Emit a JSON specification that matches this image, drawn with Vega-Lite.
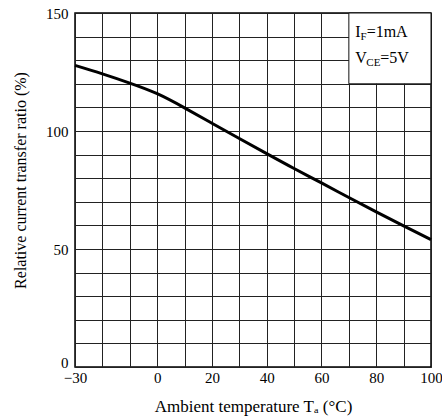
{
  "$schema": "https://vega.github.io/schema/vega-lite/v6.json",
  "width": 356,
  "height": 354,
  "autosize": "none",
  "padding": {"left": 75, "top": 13, "right": 11, "bottom": 52},
  "background": "white",
  "config": {
    "view": {"stroke": "#000", "strokeWidth": 1.5},
    "font": "Liberation Serif",
    "axis": {
      "grid": true,
      "gridColor": "#222",
      "gridWidth": 1,
      "gridOpacity": 1,
      "ticks": false,
      "domain": false,
      "labelFont": "Liberation Serif",
      "labelFontSize": 15,
      "labelColor": "#000",
      "titleFont": "Liberation Serif",
      "titleFontSize": 16,
      "titleFontWeight": "normal",
      "titleColor": "#000"
    },
    "text": {"font": "Liberation Serif", "fontWeight": "normal", "color": "#000"}
  },
  "data": {
    "values": [
      {"t": -30, "ctr": 127.8},
      {"t": -20, "ctr": 124.2},
      {"t": -10, "ctr": 120.3},
      {"t": 0, "ctr": 115.8},
      {"t": 10, "ctr": 109.8},
      {"t": 20, "ctr": 103.3},
      {"t": 30, "ctr": 96.8},
      {"t": 40, "ctr": 90.4},
      {"t": 50, "ctr": 84.1},
      {"t": 60, "ctr": 78},
      {"t": 70, "ctr": 71.8},
      {"t": 80, "ctr": 65.7},
      {"t": 90, "ctr": 59.8},
      {"t": 100, "ctr": 54}
    ]
  },
  "encoding": {
    "x": {
      "field": "t",
      "type": "quantitative",
      "scale": {"domain": [-30, 100], "nice": false, "zero": false},
      "axis": {
        "title": "Ambient temperature Tₐ (°C)",
        "titleFontSize": 17,
        "values": [-30, -20, -10, 0, 10, 20, 30, 40, 50, 60, 70, 80, 90, 100],
        "labelExpr": "(datum.value == -30 || (datum.value >= 0 && datum.value % 20 == 0)) ? datum.label : ''",
        "labelPadding": 3,
        "labelFlush": false,
        "labelOverlap": false,
        "titlePadding": 13
      }
    },
    "y": {
      "field": "ctr",
      "type": "quantitative",
      "scale": {"domain": [0, 150], "nice": false},
      "axis": {
        "title": "Relative current transfer ratio (%)",
        "values": [0, 10, 20, 30, 40, 50, 60, 70, 80, 90, 100, 110, 120, 130, 140, 150],
        "labelExpr": "datum.value % 50 == 0 ? datum.label : ''",
        "labelBaseline": {"condition": {"test": "datum.value == 0", "value": "alphabetic"}, "value": "middle"},
        "labelPadding": 7,
        "labelOverlap": false,
        "labelFlush": false,
        "titlePadding": 17,
        "titleY": 167
      }
    }
  },
  "layer": [
    {
      "mark": {"type": "line", "color": "#000", "strokeWidth": 3, "interpolate": "natural"}
    },
    {
      "data": {"values": [{"t": 70, "ctr": 120, "t2": 100, "ctr2": 150}]},
      "mark": {"type": "rect", "fill": "#fff", "stroke": "#111", "strokeWidth": 1},
      "encoding": {
        "x2": {"field": "t2"},
        "y2": {"field": "ctr2"}
      }
    },
    {
      "data": {"values": [{"t": 72.3, "ctr": 139.7}]},
      "mark": {"type": "text", "text": "I", "align": "left", "baseline": "alphabetic", "fontSize": 16}
    },
    {
      "data": {"values": [{"t": 72.3, "ctr": 139.7}]},
      "mark": {"type": "text", "text": "F", "align": "left", "baseline": "alphabetic", "fontSize": 11, "dx": 5.3, "dy": 2.5}
    },
    {
      "data": {"values": [{"t": 72.3, "ctr": 139.7}]},
      "mark": {"type": "text", "text": "=1mA", "align": "left", "baseline": "alphabetic", "fontSize": 16, "dx": 11.5}
    },
    {
      "data": {"values": [{"t": 72.3, "ctr": 128.8}]},
      "mark": {"type": "text", "text": "V", "align": "left", "baseline": "alphabetic", "fontSize": 16}
    },
    {
      "data": {"values": [{"t": 72.3, "ctr": 128.8}]},
      "mark": {"type": "text", "text": "CE", "align": "left", "baseline": "alphabetic", "fontSize": 11, "dx": 11.2, "dy": 2.5}
    },
    {
      "data": {"values": [{"t": 72.3, "ctr": 128.8}]},
      "mark": {"type": "text", "text": "=5V", "align": "left", "baseline": "alphabetic", "fontSize": 16, "dx": 25}
    }
  ]
}
